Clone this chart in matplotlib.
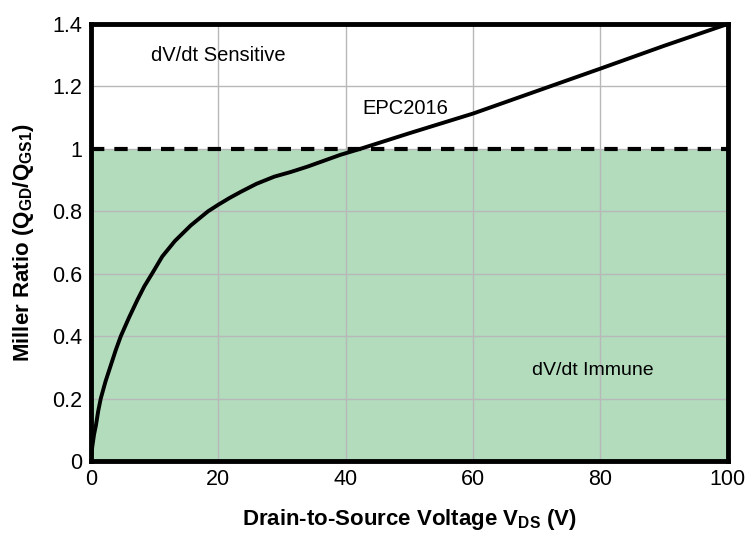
import matplotlib
matplotlib.use("Agg")
import matplotlib.pyplot as plt

plt.rcParams['font.family'] = ['Liberation Sans', 'DejaVu Sans']
plt.rcParams['mathtext.fontset'] = 'custom'
plt.rcParams['mathtext.rm'] = 'Liberation Sans'
plt.rcParams['mathtext.bf'] = 'Liberation Sans:bold'

# Miller ratio curve for EPC2016
vds = [0, 0.1, 0.25, 0.5, 0.8, 1.15, 1.55, 2.3, 3.1, 3.9, 4.7, 6.0, 7.3,
       8.4, 9.6, 11.2, 13.2, 15.7, 18.4, 20, 21.8, 23.6, 26.0, 28.8, 31.4,
       34, 36.6, 39.2, 42.3, 50, 60, 70, 80, 90, 100]
miller = [0, 0.025, 0.05, 0.085, 0.115, 0.16, 0.2, 0.255, 0.305, 0.355,
          0.4, 0.46, 0.516, 0.56, 0.6, 0.655, 0.705, 0.755, 0.8, 0.821,
          0.843, 0.863, 0.888, 0.911, 0.926, 0.943, 0.962, 0.981, 1.0,
          1.05, 1.113, 1.185, 1.257, 1.33, 1.4]

threshold = 1.0
x_ticks = [0, 20, 40, 60, 80, 100]
y_ticks = [0, 0.2, 0.4, 0.6, 0.8, 1.0, 1.2, 1.4]
y_tick_labels = ['0', '0.2', '0.4', '0.6', '0.8', '1', '1.2', '1.4']

fig = plt.figure(figsize=(7.51, 5.33), dpi=100)
ax = fig.add_axes([0.121, 0.135, 0.848, 0.82])

# immune region below the threshold
ax.axhspan(0, threshold, color='#b3dcbd', zorder=0, lw=0)
ax.grid(True, color='#b8b8b8', linewidth=1.0, zorder=1)
ax.set_axisbelow(True)

ax.axhline(threshold, color='black', linewidth=3, linestyle=(0, (3.2, 2.4)), zorder=3)
ax.plot(vds, miller, color='black', linewidth=2.8, zorder=4,
        solid_capstyle='round', solid_joinstyle='round')

ax.set_xlim(0, 100)
ax.set_ylim(0, 1.4)
ax.set_xticks(x_ticks)
ax.set_yticks(y_ticks)
ax.set_yticklabels(y_tick_labels)
ax.tick_params(length=0, labelsize=15.5, pad=6)

for s in ax.spines.values():
    s.set_linewidth(3.5)
    s.set_zorder(5)

ax.text(20.0, 1.3, 'dV/dt Sensitive', fontsize=14.5, ha='center', va='center')
ax.text(49.3, 1.13, 'EPC2016', fontsize=14.5, ha='center', va='center')
ax.text(78.8, 0.29, 'dV/dt Immune', fontsize=14, ha='center', va='center')

ax.set_xlabel(r'Drain-to-Source Voltage V$_{\mathbf{DS}}$ (V)', fontsize=16,
              fontweight='bold', labelpad=12)
ax.set_ylabel(r'Miller Ratio (Q$_{\mathbf{GD}}$/Q$_{\mathbf{GS1}}$)', fontsize=16,
              fontweight='bold', labelpad=12)

fig.savefig('out.png', dpi=100)
